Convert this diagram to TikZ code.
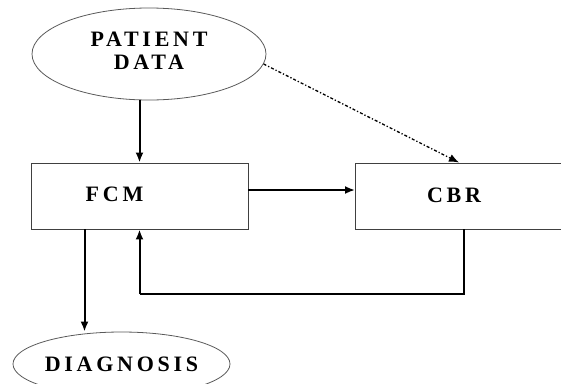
\documentclass[tikz,border=0pt]{standalone}
\usepackage{fontspec}
\setmainfont{Liberation Serif}
\newfontfamily\diagfont[LetterSpace=17]{Liberation Serif}
\usetikzlibrary{shapes.geometric}
\usetikzlibrary{arrows.meta}
\tikzset{
  blk/.style={draw=black!75, line width=0.9pt, minimum width=217pt, minimum height=66pt, inner sep=0pt},
  oval/.style={ellipse, draw=black!65, line width=0.8pt, align=center, inner sep=0pt},
  flow/.style={-{Latex[length=10pt,width=8pt]}, line width=2pt},
  txt/.style={font=\diagfont\bfseries\fontsize{22}{23}\selectfont},
}

\begin{document}
\begin{tikzpicture}[x=1pt, y=-1pt]
  \useasboundingbox (0,0) rectangle (561,383);
  \clip (0,0) rectangle (561,383);

  \node [oval, txt, text depth=6pt, minimum width=234pt, minimum height=92pt] (patient) at (149,54) {PATIENT\\DATA};
  \node [blk, label={[txt, xshift=-25pt, yshift=2pt]center:FCM}] (fcm) at (139.5,196) {};
  \node [blk, label={[txt, xshift=-10pt, yshift=1pt]center:CBR}] (cbr) at (464,196) {};
  \node [oval, txt, minimum width=217pt, minimum height=64pt] (diag) at (121.5,364) {DIAGNOSIS};
  \coordinate (back) at (fcm.south |- 0,294);

  \draw [flow] (patient.south -| fcm.north) -- (fcm.north);
  \draw [flow] ([yshift=6pt]fcm.east) -- ([yshift=6pt]cbr.west);
  \draw [flow, line width=1.3pt, dash dot] (patient.-5) -- ([xshift=-5pt]cbr.north);
  \draw [line width=1.1pt] (cbr.south) |- (back);
  \draw [flow] (back) -- (fcm.south);
  \draw [flow] ([xshift=-55pt]fcm.south) -- ([xshift=-55pt]fcm.south |- diag.north);

\end{tikzpicture}
\end{document}
